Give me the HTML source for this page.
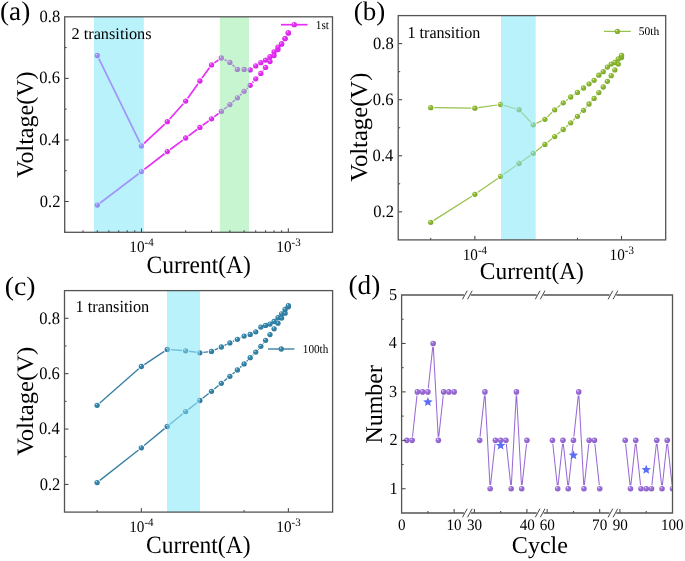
<!DOCTYPE html><html><head><meta charset="utf-8"><style>html,body{margin:0;padding:0;background:#fff;width:685px;height:561px;overflow:hidden}</style></head><body><svg width="685" height="561" viewBox="0 0 685 561" text-rendering="geometricPrecision" style="display:block;will-change:transform;font-family:'Liberation Serif',serif"><defs><radialGradient id="gm" cx="0.42" cy="0.4" r="0.62" fx="0.33" fy="0.3"><stop offset="0" stop-color="#f2dcff"/><stop offset="0.3" stop-color="#e832f6"/><stop offset="1" stop-color="#d424e6"/></radialGradient><radialGradient id="gg" cx="0.42" cy="0.4" r="0.62" fx="0.33" fy="0.3"><stop offset="0" stop-color="#f2fae4"/><stop offset="0.3" stop-color="#92be38"/><stop offset="1" stop-color="#7aa626"/></radialGradient><radialGradient id="gt" cx="0.42" cy="0.4" r="0.62" fx="0.33" fy="0.3"><stop offset="0" stop-color="#e2f2fa"/><stop offset="0.3" stop-color="#388aae"/><stop offset="1" stop-color="#2a7699"/></radialGradient><radialGradient id="gp" cx="0.42" cy="0.4" r="0.62" fx="0.33" fy="0.3"><stop offset="0" stop-color="#f6f0ff"/><stop offset="0.3" stop-color="#9f74da"/><stop offset="1" stop-color="#8a5cc8"/></radialGradient><radialGradient id="gma" cx="0.42" cy="0.4" r="0.62" fx="0.33" fy="0.3"><stop offset="0" stop-color="#d8e8ff"/><stop offset="0.3" stop-color="#9c92fa"/><stop offset="1" stop-color="#9086f2"/></radialGradient><radialGradient id="gmb" cx="0.42" cy="0.4" r="0.62" fx="0.33" fy="0.3"><stop offset="0" stop-color="#dcefe0"/><stop offset="0.3" stop-color="#aa92d0"/><stop offset="1" stop-color="#9e86c6"/></radialGradient><radialGradient id="gga" cx="0.42" cy="0.4" r="0.62" fx="0.33" fy="0.3"><stop offset="0" stop-color="#d4f6ee"/><stop offset="0.3" stop-color="#8cd2a2"/><stop offset="1" stop-color="#7ec796"/></radialGradient><radialGradient id="gta" cx="0.42" cy="0.4" r="0.62" fx="0.33" fy="0.3"><stop offset="0" stop-color="#cdf2fb"/><stop offset="0.3" stop-color="#62b6d4"/><stop offset="1" stop-color="#54a8c8"/></radialGradient></defs><rect width="685" height="561" fill="#fff"/><path d="M100.103,202.956L138.644,173.744M144.281,169.428L164.52,153.772M170.18,149.486L182.821,140.114M188.519,135.879L197.055,129.521M202.756,125.289L208.674,120.911M214.364,116.665L218.521,113.535M224.131,109.185L227.098,106.815M232.504,102.217L234.751,100.183M239.934,95.332L241.55,93.768M246.627,88.806L247.652,87.794M252.483,82.6L253.422,81.5M258.166,76.22L258.393,75.98M263.028,70.611L263.36,70.189M234.786,66.98L232.469,64.82M226.718,60.77L224.511,59.63M218.452,60.04L214.433,62.86M209.449,67.778L201.98,78.122M197.85,83.897L187.724,98.203M183.312,103.751L169.689,119.049M164.736,124.126L144.065,143.474M139.914,142.711L98.833,58.689" fill="none" stroke="#e92ef7" stroke-width="1.7"/><circle cx="97.274" cy="205.1" r="2.65" fill="url(#gm)"/><circle cx="141.473" cy="171.6" r="2.65" fill="url(#gm)"/><circle cx="167.328" cy="151.6" r="2.65" fill="url(#gm)"/><circle cx="185.672" cy="138" r="2.65" fill="url(#gm)"/><circle cx="199.902" cy="127.4" r="2.65" fill="url(#gm)"/><circle cx="211.528" cy="118.8" r="2.65" fill="url(#gm)"/><circle cx="221.357" cy="111.4" r="2.65" fill="url(#gm)"/><circle cx="229.872" cy="104.6" r="2.65" fill="url(#gm)"/><circle cx="237.383" cy="97.8" r="2.65" fill="url(#gm)"/><circle cx="244.101" cy="91.3" r="2.65" fill="url(#gm)"/><circle cx="250.179" cy="85.3" r="2.65" fill="url(#gm)"/><circle cx="255.727" cy="78.8" r="2.65" fill="url(#gm)"/><circle cx="260.831" cy="73.4" r="2.65" fill="url(#gm)"/><circle cx="265.557" cy="67.4" r="2.65" fill="url(#gm)"/><circle cx="269.956" cy="61.5" r="2.65" fill="url(#gm)"/><circle cx="274.071" cy="55.5" r="2.65" fill="url(#gm)"/><circle cx="277.937" cy="49.5" r="2.65" fill="url(#gm)"/><circle cx="281.582" cy="43.9" r="2.65" fill="url(#gm)"/><circle cx="285.03" cy="38.6" r="2.65" fill="url(#gm)"/><circle cx="288.301" cy="32.9" r="2.65" fill="url(#gm)"/><circle cx="288.301" cy="32.9" r="2.65" fill="url(#gm)"/><circle cx="285.03" cy="38.6" r="2.65" fill="url(#gm)"/><circle cx="281.582" cy="43.9" r="2.65" fill="url(#gm)"/><circle cx="277.937" cy="47.1" r="2.65" fill="url(#gm)"/><circle cx="274.071" cy="51.9" r="2.65" fill="url(#gm)"/><circle cx="269.956" cy="56.7" r="2.65" fill="url(#gm)"/><circle cx="265.557" cy="60.1" r="2.65" fill="url(#gm)"/><circle cx="260.831" cy="62.7" r="2.65" fill="url(#gm)"/><circle cx="255.727" cy="65.9" r="2.65" fill="url(#gm)"/><circle cx="250.179" cy="69.9" r="2.65" fill="url(#gm)"/><circle cx="244.101" cy="69.4" r="2.65" fill="url(#gm)"/><circle cx="237.383" cy="69.4" r="2.65" fill="url(#gm)"/><circle cx="229.872" cy="62.4" r="2.65" fill="url(#gm)"/><circle cx="221.357" cy="58" r="2.65" fill="url(#gm)"/><circle cx="211.528" cy="64.9" r="2.65" fill="url(#gm)"/><circle cx="199.902" cy="81" r="2.65" fill="url(#gm)"/><circle cx="185.672" cy="101.1" r="2.65" fill="url(#gm)"/><circle cx="167.328" cy="121.7" r="2.65" fill="url(#gm)"/><circle cx="141.473" cy="145.9" r="2.65" fill="url(#gm)"/><circle cx="97.274" cy="55.5" r="2.65" fill="url(#gm)"/><rect x="94.0" y="16.8" width="49.8" height="215.5" fill="#b9f2fa"/><rect x="219.8" y="16.8" width="29.2" height="215.5" fill="#c6f5d0"/><clipPath id="cbgm0"><rect x="94.0" y="16.8" width="49.8" height="215.5"/></clipPath><g clip-path="url(#cbgm0)"><path d="M100.103,202.956L138.644,173.744M144.281,169.428L164.52,153.772M170.18,149.486L182.821,140.114M188.519,135.879L197.055,129.521M202.756,125.289L208.674,120.911M214.364,116.665L218.521,113.535M224.131,109.185L227.098,106.815M232.504,102.217L234.751,100.183M239.934,95.332L241.55,93.768M246.627,88.806L247.652,87.794M252.483,82.6L253.422,81.5M258.166,76.22L258.393,75.98M263.028,70.611L263.36,70.189M234.786,66.98L232.469,64.82M226.718,60.77L224.511,59.63M218.452,60.04L214.433,62.86M209.449,67.778L201.98,78.122M197.85,83.897L187.724,98.203M183.312,103.751L169.689,119.049M164.736,124.126L144.065,143.474M139.914,142.711L98.833,58.689" fill="none" stroke="#a096fa" stroke-width="1.7"/><circle cx="97.274" cy="205.1" r="2.65" fill="url(#gma)"/><circle cx="141.473" cy="171.6" r="2.65" fill="url(#gma)"/><circle cx="167.328" cy="151.6" r="2.65" fill="url(#gma)"/><circle cx="185.672" cy="138" r="2.65" fill="url(#gma)"/><circle cx="199.902" cy="127.4" r="2.65" fill="url(#gma)"/><circle cx="211.528" cy="118.8" r="2.65" fill="url(#gma)"/><circle cx="221.357" cy="111.4" r="2.65" fill="url(#gma)"/><circle cx="229.872" cy="104.6" r="2.65" fill="url(#gma)"/><circle cx="237.383" cy="97.8" r="2.65" fill="url(#gma)"/><circle cx="244.101" cy="91.3" r="2.65" fill="url(#gma)"/><circle cx="250.179" cy="85.3" r="2.65" fill="url(#gma)"/><circle cx="255.727" cy="78.8" r="2.65" fill="url(#gma)"/><circle cx="260.831" cy="73.4" r="2.65" fill="url(#gma)"/><circle cx="265.557" cy="67.4" r="2.65" fill="url(#gma)"/><circle cx="269.956" cy="61.5" r="2.65" fill="url(#gma)"/><circle cx="274.071" cy="55.5" r="2.65" fill="url(#gma)"/><circle cx="277.937" cy="49.5" r="2.65" fill="url(#gma)"/><circle cx="281.582" cy="43.9" r="2.65" fill="url(#gma)"/><circle cx="285.03" cy="38.6" r="2.65" fill="url(#gma)"/><circle cx="288.301" cy="32.9" r="2.65" fill="url(#gma)"/><circle cx="288.301" cy="32.9" r="2.65" fill="url(#gma)"/><circle cx="285.03" cy="38.6" r="2.65" fill="url(#gma)"/><circle cx="281.582" cy="43.9" r="2.65" fill="url(#gma)"/><circle cx="277.937" cy="47.1" r="2.65" fill="url(#gma)"/><circle cx="274.071" cy="51.9" r="2.65" fill="url(#gma)"/><circle cx="269.956" cy="56.7" r="2.65" fill="url(#gma)"/><circle cx="265.557" cy="60.1" r="2.65" fill="url(#gma)"/><circle cx="260.831" cy="62.7" r="2.65" fill="url(#gma)"/><circle cx="255.727" cy="65.9" r="2.65" fill="url(#gma)"/><circle cx="250.179" cy="69.9" r="2.65" fill="url(#gma)"/><circle cx="244.101" cy="69.4" r="2.65" fill="url(#gma)"/><circle cx="237.383" cy="69.4" r="2.65" fill="url(#gma)"/><circle cx="229.872" cy="62.4" r="2.65" fill="url(#gma)"/><circle cx="221.357" cy="58" r="2.65" fill="url(#gma)"/><circle cx="211.528" cy="64.9" r="2.65" fill="url(#gma)"/><circle cx="199.902" cy="81" r="2.65" fill="url(#gma)"/><circle cx="185.672" cy="101.1" r="2.65" fill="url(#gma)"/><circle cx="167.328" cy="121.7" r="2.65" fill="url(#gma)"/><circle cx="141.473" cy="145.9" r="2.65" fill="url(#gma)"/><circle cx="97.274" cy="55.5" r="2.65" fill="url(#gma)"/></g><clipPath id="cbgm1"><rect x="219.8" y="16.8" width="29.2" height="215.5"/></clipPath><g clip-path="url(#cbgm1)"><path d="M100.103,202.956L138.644,173.744M144.281,169.428L164.52,153.772M170.18,149.486L182.821,140.114M188.519,135.879L197.055,129.521M202.756,125.289L208.674,120.911M214.364,116.665L218.521,113.535M224.131,109.185L227.098,106.815M232.504,102.217L234.751,100.183M239.934,95.332L241.55,93.768M246.627,88.806L247.652,87.794M252.483,82.6L253.422,81.5M258.166,76.22L258.393,75.98M263.028,70.611L263.36,70.189M234.786,66.98L232.469,64.82M226.718,60.77L224.511,59.63M218.452,60.04L214.433,62.86M209.449,67.778L201.98,78.122M197.85,83.897L187.724,98.203M183.312,103.751L169.689,119.049M164.736,124.126L144.065,143.474M139.914,142.711L98.833,58.689" fill="none" stroke="#b496d8" stroke-width="1.7"/><circle cx="97.274" cy="205.1" r="2.65" fill="url(#gmb)"/><circle cx="141.473" cy="171.6" r="2.65" fill="url(#gmb)"/><circle cx="167.328" cy="151.6" r="2.65" fill="url(#gmb)"/><circle cx="185.672" cy="138" r="2.65" fill="url(#gmb)"/><circle cx="199.902" cy="127.4" r="2.65" fill="url(#gmb)"/><circle cx="211.528" cy="118.8" r="2.65" fill="url(#gmb)"/><circle cx="221.357" cy="111.4" r="2.65" fill="url(#gmb)"/><circle cx="229.872" cy="104.6" r="2.65" fill="url(#gmb)"/><circle cx="237.383" cy="97.8" r="2.65" fill="url(#gmb)"/><circle cx="244.101" cy="91.3" r="2.65" fill="url(#gmb)"/><circle cx="250.179" cy="85.3" r="2.65" fill="url(#gmb)"/><circle cx="255.727" cy="78.8" r="2.65" fill="url(#gmb)"/><circle cx="260.831" cy="73.4" r="2.65" fill="url(#gmb)"/><circle cx="265.557" cy="67.4" r="2.65" fill="url(#gmb)"/><circle cx="269.956" cy="61.5" r="2.65" fill="url(#gmb)"/><circle cx="274.071" cy="55.5" r="2.65" fill="url(#gmb)"/><circle cx="277.937" cy="49.5" r="2.65" fill="url(#gmb)"/><circle cx="281.582" cy="43.9" r="2.65" fill="url(#gmb)"/><circle cx="285.03" cy="38.6" r="2.65" fill="url(#gmb)"/><circle cx="288.301" cy="32.9" r="2.65" fill="url(#gmb)"/><circle cx="288.301" cy="32.9" r="2.65" fill="url(#gmb)"/><circle cx="285.03" cy="38.6" r="2.65" fill="url(#gmb)"/><circle cx="281.582" cy="43.9" r="2.65" fill="url(#gmb)"/><circle cx="277.937" cy="47.1" r="2.65" fill="url(#gmb)"/><circle cx="274.071" cy="51.9" r="2.65" fill="url(#gmb)"/><circle cx="269.956" cy="56.7" r="2.65" fill="url(#gmb)"/><circle cx="265.557" cy="60.1" r="2.65" fill="url(#gmb)"/><circle cx="260.831" cy="62.7" r="2.65" fill="url(#gmb)"/><circle cx="255.727" cy="65.9" r="2.65" fill="url(#gmb)"/><circle cx="250.179" cy="69.9" r="2.65" fill="url(#gmb)"/><circle cx="244.101" cy="69.4" r="2.65" fill="url(#gmb)"/><circle cx="237.383" cy="69.4" r="2.65" fill="url(#gmb)"/><circle cx="229.872" cy="62.4" r="2.65" fill="url(#gmb)"/><circle cx="221.357" cy="58" r="2.65" fill="url(#gmb)"/><circle cx="211.528" cy="64.9" r="2.65" fill="url(#gmb)"/><circle cx="199.902" cy="81" r="2.65" fill="url(#gmb)"/><circle cx="185.672" cy="101.1" r="2.65" fill="url(#gmb)"/><circle cx="167.328" cy="121.7" r="2.65" fill="url(#gmb)"/><circle cx="141.473" cy="145.9" r="2.65" fill="url(#gmb)"/><circle cx="97.274" cy="55.5" r="2.65" fill="url(#gmb)"/></g><path d="M64.7,201.514h4 M64.7,170.729h2 M64.7,139.943h4 M64.7,109.157h2 M64.7,78.371h4 M64.7,47.586h2 M64.7,232.3v-2 M83.044,232.3v-2 M97.274,232.3v-2 M108.899,232.3v-2 M118.729,232.3v-2 M127.244,232.3v-2 M134.755,232.3v-2 M141.473,232.3v-4 M185.672,232.3v-2 M211.528,232.3v-2 M229.872,232.3v-2 M244.101,232.3v-2 M255.727,232.3v-2 M265.557,232.3v-2 M274.071,232.3v-2 M281.582,232.3v-2 M288.301,232.3v-4" stroke="#3c3c3c" stroke-width="1" fill="none"/><rect x="64.7" y="16.8" width="267.8" height="215.5" fill="none" stroke="#545454" stroke-width="1.3"/><text transform="translate(39.837,206.568) scale(0.957,1)" font-size="17.313" fill="#000">0.2</text><text transform="translate(39.175,144.997) scale(0.957,1)" font-size="17.313" fill="#000">0.4</text><text transform="translate(39.34,83.425) scale(0.957,1)" font-size="17.313" fill="#000">0.6</text><text transform="translate(39.506,21.854) scale(0.957,1)" font-size="17.313" fill="#000">0.8</text><text transform="translate(129.305,251.7) scale(0.95,1)" font-size="16" fill="#000">10<tspan font-size="72%" dy="-0.52em">-4</tspan></text><text transform="translate(276.285,251.7) scale(0.95,1)" font-size="16" fill="#000">10<tspan font-size="72%" dy="-0.52em">-3</tspan></text><text transform="translate(146.561,272.75) scale(0.939,1)" font-size="25" fill="#000">Current(A)</text><text transform="translate(32.76,177.841) rotate(-90) scale(1.002,1)" font-size="24" fill="#000">Voltage(V)</text><line x1="281" y1="24.7" x2="307.6" y2="24.7" stroke="#e92ef7" stroke-width="1.7"/><circle cx="294.3" cy="24.7" r="2.65" fill="url(#gm)"/><text transform="translate(315.782,28.879) scale(0.935,1)" font-size="12.09" fill="#000">1st</text><text transform="translate(71.448,39.038) scale(1.006,1)" font-size="16.212" fill="#000">2 transitions</text><path d="M433.735,220.399L471.889,196.201M477.805,192.278L497.795,178.422M503.616,174.356L516.134,165.544M521.921,161.43L530.366,155.37M536.068,151.141L542.045,146.559M547.643,142.192L551.902,138.808M557.407,134.325L560.462,131.775M565.835,127.135L568.041,125.165M573.239,120.33L574.85,118.77M579.925,113.805L580.946,112.795M585.816,107.635L586.668,106.665M591.403,101.375L591.721,101.025M596.352,95.647L596.591,95.353M580.596,90.083L580.274,90.317M574.472,94.407L573.617,94.993M567.881,99.171L565.995,100.629M560.446,105.056L557.423,107.544M552.13,112.268L547.414,116.832M541.655,120.82L536.458,123.28M530.817,122.215L521.47,112.285M515.622,108.731L504.128,105.469M497.199,105.003L478.401,107.697M471.337,108.16L434.287,107.74" fill="none" stroke="#98c24c" stroke-width="1.25"/><circle cx="430.737" cy="222.3" r="2.65" fill="url(#gg)"/><circle cx="474.887" cy="194.3" r="2.65" fill="url(#gg)"/><circle cx="500.713" cy="176.4" r="2.65" fill="url(#gg)"/><circle cx="519.037" cy="163.5" r="2.65" fill="url(#gg)"/><circle cx="533.25" cy="153.3" r="2.65" fill="url(#gg)"/><circle cx="544.863" cy="144.4" r="2.65" fill="url(#gg)"/><circle cx="554.682" cy="136.6" r="2.65" fill="url(#gg)"/><circle cx="563.187" cy="129.5" r="2.65" fill="url(#gg)"/><circle cx="570.689" cy="122.8" r="2.65" fill="url(#gg)"/><circle cx="577.4" cy="116.3" r="2.65" fill="url(#gg)"/><circle cx="583.471" cy="110.3" r="2.65" fill="url(#gg)"/><circle cx="589.013" cy="104" r="2.65" fill="url(#gg)"/><circle cx="594.111" cy="98.4" r="2.65" fill="url(#gg)"/><circle cx="598.832" cy="92.6" r="2.65" fill="url(#gg)"/><circle cx="603.226" cy="87" r="2.65" fill="url(#gg)"/><circle cx="607.337" cy="81.3" r="2.65" fill="url(#gg)"/><circle cx="611.198" cy="75.7" r="2.65" fill="url(#gg)"/><circle cx="614.839" cy="69.9" r="2.65" fill="url(#gg)"/><circle cx="618.283" cy="64.1" r="2.65" fill="url(#gg)"/><circle cx="621.55" cy="57.6" r="2.65" fill="url(#gg)"/><circle cx="621.55" cy="55.3" r="2.65" fill="url(#gg)"/><circle cx="618.283" cy="59" r="2.65" fill="url(#gg)"/><circle cx="614.839" cy="62.5" r="2.65" fill="url(#gg)"/><circle cx="611.198" cy="64.1" r="2.65" fill="url(#gg)"/><circle cx="607.337" cy="67.1" r="2.65" fill="url(#gg)"/><circle cx="603.226" cy="71.7" r="2.65" fill="url(#gg)"/><circle cx="598.832" cy="75.2" r="2.65" fill="url(#gg)"/><circle cx="594.111" cy="80.3" r="2.65" fill="url(#gg)"/><circle cx="589.013" cy="83.8" r="2.65" fill="url(#gg)"/><circle cx="583.471" cy="88" r="2.65" fill="url(#gg)"/><circle cx="577.4" cy="92.4" r="2.65" fill="url(#gg)"/><circle cx="570.689" cy="97" r="2.65" fill="url(#gg)"/><circle cx="563.187" cy="102.8" r="2.65" fill="url(#gg)"/><circle cx="554.682" cy="109.8" r="2.65" fill="url(#gg)"/><circle cx="544.863" cy="119.3" r="2.65" fill="url(#gg)"/><circle cx="533.25" cy="124.8" r="2.65" fill="url(#gg)"/><circle cx="519.037" cy="109.7" r="2.65" fill="url(#gg)"/><circle cx="500.713" cy="104.5" r="2.65" fill="url(#gg)"/><circle cx="474.887" cy="108.2" r="2.65" fill="url(#gg)"/><circle cx="430.737" cy="107.7" r="2.65" fill="url(#gg)"/><rect x="501.0" y="15.6" width="34.7" height="224.3" fill="#b9f2fa"/><clipPath id="cbgg0"><rect x="501.0" y="15.6" width="34.7" height="224.3"/></clipPath><g clip-path="url(#cbgg0)"><path d="M433.735,220.399L471.889,196.201M477.805,192.278L497.795,178.422M503.616,174.356L516.134,165.544M521.921,161.43L530.366,155.37M536.068,151.141L542.045,146.559M547.643,142.192L551.902,138.808M557.407,134.325L560.462,131.775M565.835,127.135L568.041,125.165M573.239,120.33L574.85,118.77M579.925,113.805L580.946,112.795M585.816,107.635L586.668,106.665M591.403,101.375L591.721,101.025M596.352,95.647L596.591,95.353M580.596,90.083L580.274,90.317M574.472,94.407L573.617,94.993M567.881,99.171L565.995,100.629M560.446,105.056L557.423,107.544M552.13,112.268L547.414,116.832M541.655,120.82L536.458,123.28M530.817,122.215L521.47,112.285M515.622,108.731L504.128,105.469M497.199,105.003L478.401,107.697M471.337,108.16L434.287,107.74" fill="none" stroke="#98d8ac" stroke-width="1.25"/><circle cx="430.737" cy="222.3" r="2.65" fill="url(#gga)"/><circle cx="474.887" cy="194.3" r="2.65" fill="url(#gga)"/><circle cx="500.713" cy="176.4" r="2.65" fill="url(#gga)"/><circle cx="519.037" cy="163.5" r="2.65" fill="url(#gga)"/><circle cx="533.25" cy="153.3" r="2.65" fill="url(#gga)"/><circle cx="544.863" cy="144.4" r="2.65" fill="url(#gga)"/><circle cx="554.682" cy="136.6" r="2.65" fill="url(#gga)"/><circle cx="563.187" cy="129.5" r="2.65" fill="url(#gga)"/><circle cx="570.689" cy="122.8" r="2.65" fill="url(#gga)"/><circle cx="577.4" cy="116.3" r="2.65" fill="url(#gga)"/><circle cx="583.471" cy="110.3" r="2.65" fill="url(#gga)"/><circle cx="589.013" cy="104" r="2.65" fill="url(#gga)"/><circle cx="594.111" cy="98.4" r="2.65" fill="url(#gga)"/><circle cx="598.832" cy="92.6" r="2.65" fill="url(#gga)"/><circle cx="603.226" cy="87" r="2.65" fill="url(#gga)"/><circle cx="607.337" cy="81.3" r="2.65" fill="url(#gga)"/><circle cx="611.198" cy="75.7" r="2.65" fill="url(#gga)"/><circle cx="614.839" cy="69.9" r="2.65" fill="url(#gga)"/><circle cx="618.283" cy="64.1" r="2.65" fill="url(#gga)"/><circle cx="621.55" cy="57.6" r="2.65" fill="url(#gga)"/><circle cx="621.55" cy="55.3" r="2.65" fill="url(#gga)"/><circle cx="618.283" cy="59" r="2.65" fill="url(#gga)"/><circle cx="614.839" cy="62.5" r="2.65" fill="url(#gga)"/><circle cx="611.198" cy="64.1" r="2.65" fill="url(#gga)"/><circle cx="607.337" cy="67.1" r="2.65" fill="url(#gga)"/><circle cx="603.226" cy="71.7" r="2.65" fill="url(#gga)"/><circle cx="598.832" cy="75.2" r="2.65" fill="url(#gga)"/><circle cx="594.111" cy="80.3" r="2.65" fill="url(#gga)"/><circle cx="589.013" cy="83.8" r="2.65" fill="url(#gga)"/><circle cx="583.471" cy="88" r="2.65" fill="url(#gga)"/><circle cx="577.4" cy="92.4" r="2.65" fill="url(#gga)"/><circle cx="570.689" cy="97" r="2.65" fill="url(#gga)"/><circle cx="563.187" cy="102.8" r="2.65" fill="url(#gga)"/><circle cx="554.682" cy="109.8" r="2.65" fill="url(#gga)"/><circle cx="544.863" cy="119.3" r="2.65" fill="url(#gga)"/><circle cx="533.25" cy="124.8" r="2.65" fill="url(#gga)"/><circle cx="519.037" cy="109.7" r="2.65" fill="url(#gga)"/><circle cx="500.713" cy="104.5" r="2.65" fill="url(#gga)"/><circle cx="474.887" cy="108.2" r="2.65" fill="url(#gga)"/><circle cx="430.737" cy="107.7" r="2.65" fill="url(#gga)"/></g><path d="M398.2,211.863h4 M398.2,183.825h2 M398.2,155.787h4 M398.2,127.75h2 M398.2,99.713h4 M398.2,71.675h2 M398.2,43.637h4 M430.737,239.9v-2 M474.887,239.9v-4 M577.4,239.9v-2 M621.55,239.9v-4" stroke="#3c3c3c" stroke-width="1" fill="none"/><rect x="398.2" y="15.6" width="267.5" height="224.3" fill="none" stroke="#545454" stroke-width="1.3"/><text transform="translate(373.286,216.816) scale(0.959,1)" font-size="17.313" fill="#000">0.2</text><text transform="translate(372.621,160.741) scale(0.959,1)" font-size="17.313" fill="#000">0.4</text><text transform="translate(372.787,104.666) scale(0.959,1)" font-size="17.313" fill="#000">0.6</text><text transform="translate(372.953,48.591) scale(0.959,1)" font-size="17.313" fill="#000">0.8</text><text transform="translate(462.719,260.1) scale(0.95,1)" font-size="16" fill="#000">10<tspan font-size="72%" dy="-0.52em">-4</tspan></text><text transform="translate(609.534,260.1) scale(0.95,1)" font-size="16" fill="#000">10<tspan font-size="72%" dy="-0.52em">-3</tspan></text><text transform="translate(479.863,279.313) scale(0.967,1)" font-size="24.222" fill="#000">Current(A)</text><text transform="translate(366.867,181.747) rotate(-90) scale(1.009,1)" font-size="24.444" fill="#000">Voltage(V)</text><line x1="604" y1="31.4" x2="630.8" y2="31.4" stroke="#98c24c" stroke-width="1.25"/><circle cx="617.4" cy="31.4" r="2.65" fill="url(#gg)"/><text transform="translate(638.708,35.166) scale(0.986,1)" font-size="11.69" fill="#000">50th</text><text transform="translate(407.448,37.833) scale(0.965,1)" font-size="16.716" fill="#000">1 transition</text><path d="M99.9,480.405L138.569,449.995M144.095,445.538L164.507,428.662M170.007,424.172L182.844,413.828M188.408,409.418L197.053,402.682M202.638,398.299L208.707,393.501M214.247,389.061L218.578,385.539M224.076,381.047L227.113,378.553M232.56,373.999L234.673,372.201M240.025,367.537L241.453,366.263M246.588,361.366L247.7,360.234M252.686,355.18L253.241,354.62M258.088,349.436L258.504,348.964M263.049,343.512L263.384,343.088M240.896,337.625L240.582,337.775M234.174,340.833L233.059,341.367M226.658,344.439L224.532,345.461M218.092,348.449L214.733,349.951M207.967,351.824L203.378,352.376M196.337,352.306L189.124,351.294M182.068,350.53L170.783,349.67M164.281,351.357L144.321,364.543M138.69,368.84L99.779,402.96" fill="none" stroke="#3a80a3" stroke-width="1.4"/><circle cx="97.11" cy="482.6" r="2.65" fill="url(#gt)"/><circle cx="141.359" cy="447.8" r="2.65" fill="url(#gt)"/><circle cx="167.243" cy="426.4" r="2.65" fill="url(#gt)"/><circle cx="185.608" cy="411.6" r="2.65" fill="url(#gt)"/><circle cx="199.853" cy="400.5" r="2.65" fill="url(#gt)"/><circle cx="211.492" cy="391.3" r="2.65" fill="url(#gt)"/><circle cx="221.333" cy="383.3" r="2.65" fill="url(#gt)"/><circle cx="229.857" cy="376.3" r="2.65" fill="url(#gt)"/><circle cx="237.376" cy="369.9" r="2.65" fill="url(#gt)"/><circle cx="244.102" cy="363.9" r="2.65" fill="url(#gt)"/><circle cx="250.186" cy="357.7" r="2.65" fill="url(#gt)"/><circle cx="255.741" cy="352.1" r="2.65" fill="url(#gt)"/><circle cx="260.851" cy="346.3" r="2.65" fill="url(#gt)"/><circle cx="265.582" cy="340.3" r="2.65" fill="url(#gt)"/><circle cx="269.986" cy="334.6" r="2.65" fill="url(#gt)"/><circle cx="274.106" cy="328.8" r="2.65" fill="url(#gt)"/><circle cx="277.976" cy="323.2" r="2.65" fill="url(#gt)"/><circle cx="281.625" cy="318.1" r="2.65" fill="url(#gt)"/><circle cx="285.077" cy="313.2" r="2.65" fill="url(#gt)"/><circle cx="288.351" cy="306.8" r="2.65" fill="url(#gt)"/><circle cx="288.351" cy="305.7" r="2.65" fill="url(#gt)"/><circle cx="285.077" cy="309.5" r="2.65" fill="url(#gt)"/><circle cx="281.625" cy="313.8" r="2.65" fill="url(#gt)"/><circle cx="277.976" cy="317.7" r="2.65" fill="url(#gt)"/><circle cx="274.106" cy="321.5" r="2.65" fill="url(#gt)"/><circle cx="269.986" cy="324.1" r="2.65" fill="url(#gt)"/><circle cx="265.582" cy="325.4" r="2.65" fill="url(#gt)"/><circle cx="260.851" cy="327.1" r="2.65" fill="url(#gt)"/><circle cx="255.741" cy="331.8" r="2.65" fill="url(#gt)"/><circle cx="250.186" cy="334.4" r="2.65" fill="url(#gt)"/><circle cx="244.102" cy="336.1" r="2.65" fill="url(#gt)"/><circle cx="237.376" cy="339.3" r="2.65" fill="url(#gt)"/><circle cx="229.857" cy="342.9" r="2.65" fill="url(#gt)"/><circle cx="221.333" cy="347" r="2.65" fill="url(#gt)"/><circle cx="211.492" cy="351.4" r="2.65" fill="url(#gt)"/><circle cx="199.853" cy="352.8" r="2.65" fill="url(#gt)"/><circle cx="185.608" cy="350.8" r="2.65" fill="url(#gt)"/><circle cx="167.243" cy="349.4" r="2.65" fill="url(#gt)"/><circle cx="141.359" cy="366.5" r="2.65" fill="url(#gt)"/><circle cx="97.11" cy="405.3" r="2.65" fill="url(#gt)"/><rect x="167.0" y="290.6" width="33" height="221.5" fill="#b9f2fa"/><clipPath id="cbgt0"><rect x="167.0" y="290.6" width="33" height="221.5"/></clipPath><g clip-path="url(#cbgt0)"><path d="M99.9,480.405L138.569,449.995M144.095,445.538L164.507,428.662M170.007,424.172L182.844,413.828M188.408,409.418L197.053,402.682M202.638,398.299L208.707,393.501M214.247,389.061L218.578,385.539M224.076,381.047L227.113,378.553M232.56,373.999L234.673,372.201M240.025,367.537L241.453,366.263M246.588,361.366L247.7,360.234M252.686,355.18L253.241,354.62M258.088,349.436L258.504,348.964M263.049,343.512L263.384,343.088M240.896,337.625L240.582,337.775M234.174,340.833L233.059,341.367M226.658,344.439L224.532,345.461M218.092,348.449L214.733,349.951M207.967,351.824L203.378,352.376M196.337,352.306L189.124,351.294M182.068,350.53L170.783,349.67M164.281,351.357L144.321,364.543M138.69,368.84L99.779,402.96" fill="none" stroke="#70bedc" stroke-width="1.4"/><circle cx="97.11" cy="482.6" r="2.65" fill="url(#gta)"/><circle cx="141.359" cy="447.8" r="2.65" fill="url(#gta)"/><circle cx="167.243" cy="426.4" r="2.65" fill="url(#gta)"/><circle cx="185.608" cy="411.6" r="2.65" fill="url(#gta)"/><circle cx="199.853" cy="400.5" r="2.65" fill="url(#gta)"/><circle cx="211.492" cy="391.3" r="2.65" fill="url(#gta)"/><circle cx="221.333" cy="383.3" r="2.65" fill="url(#gta)"/><circle cx="229.857" cy="376.3" r="2.65" fill="url(#gta)"/><circle cx="237.376" cy="369.9" r="2.65" fill="url(#gta)"/><circle cx="244.102" cy="363.9" r="2.65" fill="url(#gta)"/><circle cx="250.186" cy="357.7" r="2.65" fill="url(#gta)"/><circle cx="255.741" cy="352.1" r="2.65" fill="url(#gta)"/><circle cx="260.851" cy="346.3" r="2.65" fill="url(#gta)"/><circle cx="265.582" cy="340.3" r="2.65" fill="url(#gta)"/><circle cx="269.986" cy="334.6" r="2.65" fill="url(#gta)"/><circle cx="274.106" cy="328.8" r="2.65" fill="url(#gta)"/><circle cx="277.976" cy="323.2" r="2.65" fill="url(#gta)"/><circle cx="281.625" cy="318.1" r="2.65" fill="url(#gta)"/><circle cx="285.077" cy="313.2" r="2.65" fill="url(#gta)"/><circle cx="288.351" cy="306.8" r="2.65" fill="url(#gta)"/><circle cx="288.351" cy="305.7" r="2.65" fill="url(#gta)"/><circle cx="285.077" cy="309.5" r="2.65" fill="url(#gta)"/><circle cx="281.625" cy="313.8" r="2.65" fill="url(#gta)"/><circle cx="277.976" cy="317.7" r="2.65" fill="url(#gta)"/><circle cx="274.106" cy="321.5" r="2.65" fill="url(#gta)"/><circle cx="269.986" cy="324.1" r="2.65" fill="url(#gta)"/><circle cx="265.582" cy="325.4" r="2.65" fill="url(#gta)"/><circle cx="260.851" cy="327.1" r="2.65" fill="url(#gta)"/><circle cx="255.741" cy="331.8" r="2.65" fill="url(#gta)"/><circle cx="250.186" cy="334.4" r="2.65" fill="url(#gta)"/><circle cx="244.102" cy="336.1" r="2.65" fill="url(#gta)"/><circle cx="237.376" cy="339.3" r="2.65" fill="url(#gta)"/><circle cx="229.857" cy="342.9" r="2.65" fill="url(#gta)"/><circle cx="221.333" cy="347" r="2.65" fill="url(#gta)"/><circle cx="211.492" cy="351.4" r="2.65" fill="url(#gta)"/><circle cx="199.853" cy="352.8" r="2.65" fill="url(#gta)"/><circle cx="185.608" cy="350.8" r="2.65" fill="url(#gta)"/><circle cx="167.243" cy="349.4" r="2.65" fill="url(#gta)"/><circle cx="141.359" cy="366.5" r="2.65" fill="url(#gta)"/><circle cx="97.11" cy="405.3" r="2.65" fill="url(#gta)"/></g><path d="M64.5,484.413h4 M64.5,456.725h2 M64.5,429.038h4 M64.5,401.35h2 M64.5,373.663h4 M64.5,345.975h2 M64.5,318.288h4 M97.11,512.1v-2 M141.359,512.1v-4 M244.102,512.1v-2 M288.351,512.1v-4" stroke="#3c3c3c" stroke-width="1" fill="none"/><rect x="64.5" y="290.6" width="268.1" height="221.5" fill="none" stroke="#545454" stroke-width="1.3"/><text transform="translate(39.689,489.66) scale(0.938,1)" font-size="17.612" fill="#000">0.2</text><text transform="translate(39.028,434.285) scale(0.938,1)" font-size="17.612" fill="#000">0.4</text><text transform="translate(39.193,378.91) scale(0.938,1)" font-size="17.612" fill="#000">0.6</text><text transform="translate(39.359,323.535) scale(0.938,1)" font-size="17.612" fill="#000">0.8</text><text transform="translate(129.191,532) scale(0.95,1)" font-size="16" fill="#000">10<tspan font-size="72%" dy="-0.52em">-4</tspan></text><text transform="translate(276.335,532) scale(0.95,1)" font-size="16" fill="#000">10<tspan font-size="72%" dy="-0.52em">-3</tspan></text><text transform="translate(146.06,553.197) scale(0.949,1)" font-size="24.778" fill="#000">Current(A)</text><text transform="translate(32.853,455.847) rotate(-90) scale(1.047,1)" font-size="23.556" fill="#000">Voltage(V)</text><line x1="268.1" y1="349.0" x2="294.4" y2="349.0" stroke="#3a80a3" stroke-width="1.4"/><circle cx="281.25" cy="349" r="2.65" fill="url(#gt)"/><text transform="translate(302.792,353.258) scale(0.924,1)" font-size="12.113" fill="#000">100th</text><text transform="translate(75.534,311.731) scale(0.966,1)" font-size="16.866" fill="#000">1 transition</text><text transform="translate(0.009,20.207) scale(1.006,1)" font-size="27.111" fill="#000">(a)</text><text transform="translate(353.819,20.277) scale(1.01,1)" font-size="26.778" fill="#000">(b)</text><text transform="translate(4.693,295.277) scale(1.033,1)" font-size="26.778" fill="#000">(c)</text><text transform="translate(348.511,294.283) scale(1,1)" font-size="27.222" fill="#000">(d)</text><clipPath id="cd"><rect x="401.6" y="295.0" width="270.9" height="218.0"/></clipPath><g clip-path="url(#cd)"><path d="M412.509,436.655L416.966,395.567M428.274,388.21L432.731,347.123M433.33,347.139L438.185,436.639M438.784,436.655L443.241,395.567" fill="none" stroke="#9a6ad5" stroke-width="1.05"/><circle cx="406.855" cy="440.333" r="2.8" fill="url(#gp)"/><circle cx="412.11" cy="440.333" r="2.8" fill="url(#gp)"/><circle cx="417.365" cy="391.889" r="2.8" fill="url(#gp)"/><circle cx="422.62" cy="391.889" r="2.8" fill="url(#gp)"/><circle cx="427.875" cy="391.889" r="2.8" fill="url(#gp)"/><circle cx="433.13" cy="343.444" r="2.8" fill="url(#gp)"/><circle cx="438.385" cy="440.333" r="2.8" fill="url(#gp)"/><circle cx="443.64" cy="391.889" r="2.8" fill="url(#gp)"/><circle cx="448.895" cy="391.889" r="2.8" fill="url(#gp)"/><circle cx="454.15" cy="391.889" r="2.8" fill="url(#gp)"/><path d="M480.037,436.655L484.494,395.567M485.094,395.583L489.948,485.083M490.547,485.099L495.004,444.012M506.312,444.012L510.769,485.099M511.369,485.083L516.223,395.583M516.624,395.583L521.478,485.083M522.077,485.099L526.534,444.012" fill="none" stroke="#9a6ad5" stroke-width="1.05"/><circle cx="479.638" cy="440.333" r="2.8" fill="url(#gp)"/><circle cx="484.893" cy="391.889" r="2.8" fill="url(#gp)"/><circle cx="490.148" cy="488.778" r="2.8" fill="url(#gp)"/><circle cx="495.403" cy="440.333" r="2.8" fill="url(#gp)"/><circle cx="500.658" cy="440.333" r="2.8" fill="url(#gp)"/><circle cx="505.913" cy="440.333" r="2.8" fill="url(#gp)"/><circle cx="511.168" cy="488.778" r="2.8" fill="url(#gp)"/><circle cx="516.423" cy="391.889" r="2.8" fill="url(#gp)"/><circle cx="521.678" cy="488.778" r="2.8" fill="url(#gp)"/><circle cx="526.933" cy="440.333" r="2.8" fill="url(#gp)"/><path d="M552.821,444.012L557.278,485.099M558.076,485.099L562.533,444.012M563.331,444.012L567.788,485.099M568.586,485.099L573.043,444.012M573.841,436.655L578.298,395.567M578.897,395.583L583.751,485.083M584.351,485.099L588.808,444.012M594.861,444.012L599.318,485.099" fill="none" stroke="#9a6ad5" stroke-width="1.05"/><circle cx="552.422" cy="440.333" r="2.8" fill="url(#gp)"/><circle cx="557.677" cy="488.778" r="2.8" fill="url(#gp)"/><circle cx="562.932" cy="440.333" r="2.8" fill="url(#gp)"/><circle cx="568.187" cy="488.778" r="2.8" fill="url(#gp)"/><circle cx="573.442" cy="440.333" r="2.8" fill="url(#gp)"/><circle cx="578.697" cy="391.889" r="2.8" fill="url(#gp)"/><circle cx="583.952" cy="488.778" r="2.8" fill="url(#gp)"/><circle cx="589.207" cy="440.333" r="2.8" fill="url(#gp)"/><circle cx="594.462" cy="440.333" r="2.8" fill="url(#gp)"/><circle cx="599.717" cy="488.778" r="2.8" fill="url(#gp)"/><path d="M625.604,444.012L630.061,485.099M630.859,485.099L635.316,444.012M636.114,444.012L640.571,485.099M651.879,485.099L656.336,444.012M657.134,444.012L661.591,485.099M662.389,485.099L666.846,444.012M667.644,444.012L672.101,485.099" fill="none" stroke="#9a6ad5" stroke-width="1.05"/><circle cx="625.205" cy="440.333" r="2.8" fill="url(#gp)"/><circle cx="630.46" cy="488.778" r="2.8" fill="url(#gp)"/><circle cx="635.715" cy="440.333" r="2.8" fill="url(#gp)"/><circle cx="640.97" cy="488.778" r="2.8" fill="url(#gp)"/><circle cx="646.225" cy="488.778" r="2.8" fill="url(#gp)"/><circle cx="651.48" cy="488.778" r="2.8" fill="url(#gp)"/><circle cx="656.735" cy="440.333" r="2.8" fill="url(#gp)"/><circle cx="661.99" cy="488.778" r="2.8" fill="url(#gp)"/><circle cx="667.245" cy="440.333" r="2.8" fill="url(#gp)"/><circle cx="672.5" cy="488.778" r="2.8" fill="url(#gp)"/></g><polygon points="427.875,396.978 429.198,400.157 432.63,400.433 430.015,402.673 430.814,406.023 427.875,404.228 424.936,406.023 425.735,402.673 423.12,400.433 426.552,400.157" fill="#5d6ef6"/><polygon points="500.658,440.578 501.981,443.757 505.414,444.033 502.798,446.273 503.597,449.623 500.658,447.828 497.719,449.623 498.518,446.273 495.903,444.033 499.336,443.757" fill="#5d6ef6"/><polygon points="573.442,450.267 574.764,453.446 578.197,453.722 575.582,455.962 576.381,459.312 573.442,457.517 570.503,459.312 571.302,455.962 568.686,453.722 572.119,453.446" fill="#5d6ef6"/><polygon points="646.225,464.8 647.548,467.98 650.98,468.255 648.365,470.495 649.164,473.845 646.225,472.05 643.286,473.845 644.085,470.495 641.47,468.255 644.902,467.98" fill="#5d6ef6"/><path d="M401.6,488.778h4 M401.6,464.556h2 M401.6,440.333h4 M401.6,416.111h2 M401.6,391.889h4 M401.6,367.667h2 M401.6,343.444h4 M401.6,319.222h2 M427.875,513v-2 M454.15,513v-4 M474.383,513v-4 M500.658,513v-2 M526.933,513v-4 M547.167,513v-4 M573.442,513v-2 M599.717,513v-4 M619.95,513v-4 M646.225,513v-2" stroke="#3c3c3c" stroke-width="1" fill="none"/><path d="M401.6,294.35V513.65 M672.5,294.35V513.65 M401.6,295H463.95 M470.75,295H536.733 M543.533,295H609.517 M616.317,295H672.5 M401.6,513H463.95 M470.75,513H536.733 M543.533,513H609.517 M616.317,513H672.5" stroke="#545454" stroke-width="1.3" fill="none"/><path d="M462.5,299.3L467.2,290.7 M467.5,299.3L472.2,290.7 M462.5,517.3L467.2,508.7 M467.5,517.3L472.2,508.7 M535.283,299.3L539.983,290.7 M540.283,299.3L544.983,290.7 M535.283,517.3L539.983,508.7 M540.283,517.3L544.983,508.7 M608.067,299.3L612.767,290.7 M613.067,299.3L617.767,290.7 M608.067,517.3L612.767,508.7 M613.067,517.3L617.767,508.7" stroke="#333" stroke-width="0.9" fill="none"/><text transform="translate(389.426,493.862) scale(0.957,1)" font-size="16.923" fill="#000">1</text><text transform="translate(389.426,445.333) scale(0.957,1)" font-size="16.923" fill="#000">2</text><text transform="translate(389.102,396.804) scale(0.957,1)" font-size="16.923" fill="#000">3</text><text transform="translate(388.778,348.444) scale(0.957,1)" font-size="16.923" fill="#000">4</text><text transform="translate(389.102,299.915) scale(0.957,1)" font-size="16.923" fill="#000">5</text><text transform="translate(398.007,530.224) scale(0.955,1)" font-size="15.882" fill="#000">0</text><text transform="translate(446.384,530.382) scale(0.955,1)" font-size="15.882" fill="#000">10</text><text transform="translate(466.921,530.224) scale(0.955,1)" font-size="15.882" fill="#000">30</text><text transform="translate(519.699,530.224) scale(0.955,1)" font-size="15.882" fill="#000">40</text><text transform="translate(539.78,530.224) scale(0.955,1)" font-size="15.882" fill="#000">60</text><text transform="translate(592.103,530.224) scale(0.955,1)" font-size="15.882" fill="#000">70</text><text transform="translate(612.64,530.224) scale(0.955,1)" font-size="15.882" fill="#000">90</text><text transform="translate(660.941,530.382) scale(0.955,1)" font-size="15.882" fill="#000">100</text><text transform="translate(511.837,552.96) scale(1.003,1)" font-size="24" fill="#000">Cycle</text><text transform="translate(381.86,443.518) rotate(-90) scale(0.997,1)" font-size="24" fill="#000">Number</text></svg></body></html>
